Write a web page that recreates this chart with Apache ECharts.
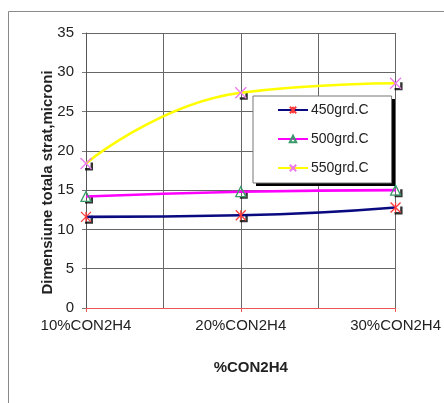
<!DOCTYPE html>
<html>
<head>
<meta charset="utf-8">
<script src="https://cdn.jsdelivr.net/npm/echarts@6/dist/echarts.min.js"></script>
<style>
  html, body { margin: 0; padding: 0; background: #fff; }
  #chart { width: 444px; height: 403px; }
</style>
</head>
<body>
<div id="chart"></div>
<script>
// Concentration levels on the horizontal axis
const categories = ['10%CON2H4', '20%CON2H4', '30%CON2H4'];
// Total layer thickness (microns) per temperature
const temp450 = [11.6, 11.8, 12.8];
const temp500 = [14.2, 14.8, 15.0];
const temp550 = [18.4, 27.4, 28.6];
const seriesNames = ['450grd.C', '500grd.C', '550grd.C'];
const yTicks = { min: 0, max: 35, step: 5 };

const FONT = 'Liberation Sans, Arial, sans-serif';

// pair each value with its category index so it sits on the index-based x axis
const toPoints = (vals) => vals.map((v, i) => [i, v]);

const asterisk = 'path://M0,0 L10,10 M10,0 L0,10 M5,0 L5,10';
const cross = 'path://M0,0 L10,10 M10,0 L0,10';
const triangle = 'path://M5,0 L10,9 L0,9 Z';
const corner = 'path://M7,0 L10,0 L10,10 L0,10 L0,7 L7,7 Z';

function lineSeries(name, vals, lineColor, symbol, symColor, size) {
  return {
    name: name,
    type: 'line',
    xAxisIndex: 1,
    data: toPoints(vals),
    smooth: 0.5,
    symbol: symbol,
    symbolSize: size,
    showSymbol: true,
    lineStyle: { color: lineColor, width: 2.6 },
    itemStyle: { color: 'none', borderColor: symColor, borderWidth: 1.3 },
    z: 2
  };
}

// dark corner marks drawn behind every data point
function cornerSeries(vals) {
  return {
    type: 'scatter',
    xAxisIndex: 1,
    data: toPoints(vals),
    symbol: corner,
    symbolSize: 8,
    symbolOffset: [3, 3],
    itemStyle: { color: '#000' },
    silent: true,
    z: 1
  };
}

const chart = echarts.init(document.getElementById('chart'), null, { renderer: 'canvas' });

chart.setOption({
  animation: false,
  backgroundColor: '#fff',
  textStyle: { fontFamily: FONT },
  grid: { left: 86, right: 47, top: 33, bottom: 95 },
  graphic: [
    {
      // outer chart frame
      type: 'rect',
      shape: { x: 8.5, y: 11.5, width: 500, height: 500 },
      style: { fill: 'none', stroke: '#8a8a8a', lineWidth: 1 },
      silent: true,
      z: -10
    },
    {
      // drop shadow under the legend box
      type: 'rect',
      shape: { x: 256, y: 99, width: 139, height: 87 },
      style: { fill: '#000' },
      silent: true,
      z: 3
    }
  ],
  legend: {
    data: seriesNames,
    orient: 'vertical',
    left: 253,
    top: 96,
    padding: [7, 23, 8, 24],
    itemWidth: 30,
    itemHeight: 8,
    itemGap: 15,
    backgroundColor: '#fff',
    borderColor: '#777',
    borderWidth: 1,
    z: 4,
    textStyle: { fontFamily: FONT, fontSize: 14, color: '#222', padding: [0, 0, 0, -2] }
  },
  xAxis: [
    {
      // fine vertical grid every half step
      type: 'value',
      min: 0,
      max: categories.length - 1,
      interval: 0.5,
      axisLine: { show: false },
      axisTick: { show: false },
      axisLabel: { show: false },
      splitLine: { show: true, lineStyle: { color: '#666', width: 1 } }
    },
    {
      type: 'value',
      min: 0,
      max: categories.length - 1,
      interval: 1,
      position: 'bottom',
      name: '%CON2H4',
      nameLocation: 'middle',
      nameGap: 52,
      nameMoveOverlap: false,
      nameTextStyle: { fontFamily: FONT, fontSize: 15, fontWeight: 'bold', color: '#222', padding: [0, 0, 0, 20] },
      axisLine: { show: true, lineStyle: { color: '#ee5555', width: 1.2 } },
      axisTick: { show: true, inside: false, length: 4, lineStyle: { color: '#ee5555' } },
      axisLabel: {
        margin: 10,
        fontFamily: FONT,
        fontSize: 15,
        color: '#222',
        formatter: (v) => categories[Math.round(v)] || ''
      },
      splitLine: { show: false },
      z: 4
    }
  ],
  yAxis: {
    type: 'value',
    min: yTicks.min,
    max: yTicks.max,
    interval: yTicks.step,
    name: 'Dimensiune totala strat,microni',
    nameLocation: 'middle',
    nameGap: 31,
    nameMoveOverlap: false,
    nameTextStyle: { fontFamily: FONT, fontSize: 15, fontWeight: 'bold', color: '#222', padding: [0, 24, 0, 0] },
    axisLine: { show: true, lineStyle: { color: '#555', width: 1 } },
    axisTick: { show: true, length: 4, lineStyle: { color: '#777' } },
    axisLabel: { margin: 12, fontFamily: FONT, fontSize: 15, color: '#222' },
    splitLine: { show: true, lineStyle: { color: '#666', width: 1 } }
  },
  series: [
    cornerSeries(temp450),
    cornerSeries(temp500),
    cornerSeries(temp550),
    lineSeries(seriesNames[0], temp450, '#0a0a80', asterisk, '#ff3b3b', 10),
    lineSeries(seriesNames[1], temp500, '#ff00ff', triangle, '#3a9a6a', 10),
    lineSeries(seriesNames[2], temp550, '#ffff00', cross, '#ee77ee', 11)
  ]
});
</script>
</body>
</html>
